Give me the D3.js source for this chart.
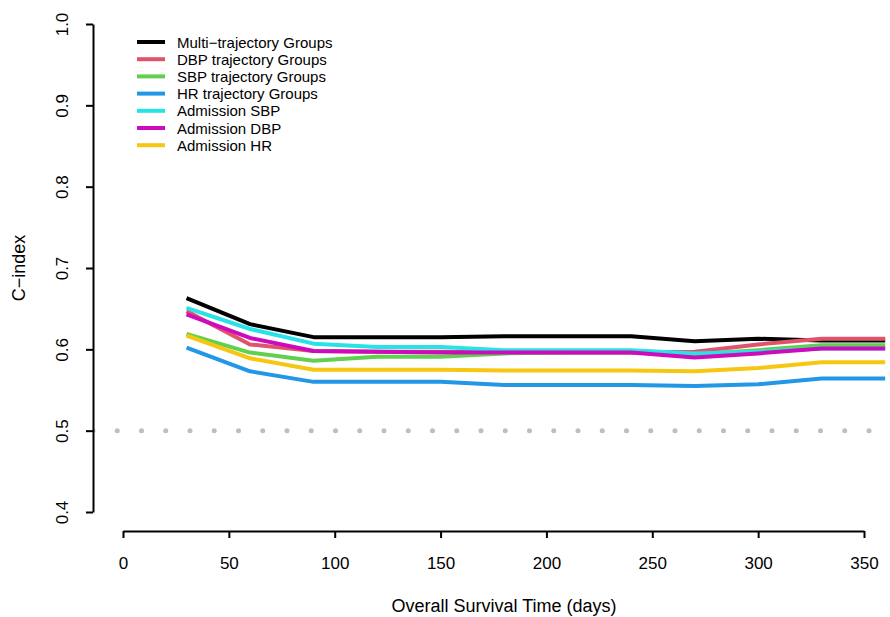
<!DOCTYPE html>
<html>
<head>
<meta charset="utf-8">
<script src="https://cdn.jsdelivr.net/npm/d3@7"></script>
<style>
  body { margin: 0; background: #fff; }
  text { font-family: "Liberation Sans", Arial, Helvetica, sans-serif; }
</style>
</head>
<body>
<script>
const days = [30, 60, 90, 120, 150, 180, 210, 240, 270, 300, 330, 360];

const multiTraj = [0.663, 0.631, 0.615, 0.615, 0.615, 0.616, 0.616, 0.616, 0.610, 0.613, 0.611, 0.611];
const dbpTraj = [0.647, 0.606, 0.598, 0.597, 0.597, 0.596, 0.596, 0.596, 0.597, 0.606, 0.613, 0.613];
const sbpTraj = [0.619, 0.596, 0.586, 0.591, 0.591, 0.595, 0.596, 0.596, 0.594, 0.599, 0.605, 0.605];
const hrTraj = [0.602, 0.573, 0.560, 0.560, 0.560, 0.556, 0.556, 0.556, 0.555, 0.557, 0.564, 0.564];
const admSbp = [0.651, 0.625, 0.607, 0.603, 0.603, 0.599, 0.599, 0.599, 0.595, 0.597, 0.601, 0.601];
const admDbp = [0.643, 0.614, 0.598, 0.597, 0.596, 0.596, 0.596, 0.596, 0.590, 0.595, 0.601, 0.601];
const admHr = [0.617, 0.589, 0.575, 0.575, 0.575, 0.574, 0.574, 0.574, 0.573, 0.577, 0.584, 0.584];

const seriesNames = [
  "Multi\u2212trajectory Groups",
  "DBP trajectory Groups",
  "SBP trajectory Groups",
  "HR trajectory Groups",
  "Admission SBP",
  "Admission DBP",
  "Admission HR",
];
const seriesValues = [multiTraj, dbpTraj, sbpTraj, hrTraj, admSbp, admDbp, admHr];
const colors = ["#000000", "#DF536B", "#61D04F", "#2297E6", "#28E2E5", "#CD0BBC", "#F5C710"];

const xTicks = [0, 50, 100, 150, 200, 250, 300, 350];
const yTicks = [0.4, 0.5, 0.6, 0.7, 0.8, 0.9, 1.0];
const refLine = 0.5;

const width = 890, height = 617;

const svg = d3.select("body").append("svg")
  .attr("width", width)
  .attr("height", height);

const x = d3.scaleLinear().domain([0, 350]).range([123, 864]);
const y = d3.scaleLinear().domain([0.4, 1.0]).range([512, 24]);

// plot region (R usr box)
const plotLeft = 93, plotBottom = 531;

svg.append("defs").append("clipPath")
  .attr("id", "plotclip")
  .append("rect")
  .attr("x", plotLeft)
  .attr("y", 0)
  .attr("width", width - plotLeft)
  .attr("height", plotBottom);

const plot = svg.append("g").attr("clip-path", "url(#plotclip)");

// dotted reference line
plot.append("line")
  .attr("x1", plotLeft)
  .attr("x2", width)
  .attr("y1", y(refLine))
  .attr("y2", y(refLine))
  .attr("stroke", "#BEBEBE")
  .attr("stroke-width", 5)
  .attr("stroke-linecap", "round")
  .attr("stroke-dasharray", "0 24.25");

const line = d3.line()
  .x((d, i) => x(days[i]))
  .y(d => y(d));

plot.selectAll("path.series")
  .data(seriesValues)
  .enter()
  .append("path")
  .attr("class", "series")
  .attr("d", d => line(d))
  .attr("fill", "none")
  .attr("stroke", (d, i) => colors[i])
  .attr("stroke-width", 4)
  .attr("stroke-linejoin", "round");

// x axis
const xAxis = svg.append("g")
  .attr("transform", `translate(0,${plotBottom})`)
  .call(d3.axisBottom(x).tickValues(xTicks).tickSize(7).tickSizeOuter(0).tickPadding(19));
xAxis.select(".domain").attr("stroke", "#000").attr("stroke-width", 2);
xAxis.selectAll(".tick line").attr("stroke", "#000").attr("stroke-width", 2);
xAxis.selectAll(".tick text")
  .attr("font-size", 17)
  .attr("font-family", "Liberation Sans, Arial, sans-serif")
  .attr("fill", "#000");

// y axis
const yAxis = svg.append("g")
  .attr("transform", `translate(${plotLeft},0)`)
  .call(d3.axisLeft(y).tickValues(yTicks).tickSize(7).tickSizeOuter(0).tickFormat(d3.format(".1f")));
yAxis.select(".domain").attr("stroke", "#000").attr("stroke-width", 2);
yAxis.selectAll(".tick line").attr("stroke", "#000").attr("stroke-width", 2);
yAxis.selectAll(".tick text")
  .attr("font-size", 17)
  .attr("font-family", "Liberation Sans, Arial, sans-serif")
  .attr("fill", "#000")
  .attr("x", 0)
  .attr("dy", 0)
  .attr("text-anchor", "middle")
  .attr("transform", "translate(-25,0) rotate(-90)");

// axis titles
svg.append("text")
  .attr("x", 504)
  .attr("y", 612)
  .attr("text-anchor", "middle")
  .attr("font-size", 18)
  .text("Overall Survival Time (days)");

svg.append("text")
  .attr("transform", `translate(25,${y(0.7)}) rotate(-90)`)
  .attr("text-anchor", "middle")
  .attr("font-size", 18)
  .text("C\u2212index");

// legend
const legend = svg.append("g").attr("transform", "translate(137,42)");
const rows = legend.selectAll("g")
  .data(seriesNames)
  .enter()
  .append("g")
  .attr("transform", (d, i) => `translate(0,${i * 17.2})`);

rows.append("line")
  .attr("x1", 0)
  .attr("x2", 28)
  .attr("stroke", (d, i) => colors[i])
  .attr("stroke-width", 4);

rows.append("text")
  .attr("x", 40)
  .attr("y", 5.5)
  .attr("font-size", 15)
  .text(d => d);
</script>
</body>
</html>
